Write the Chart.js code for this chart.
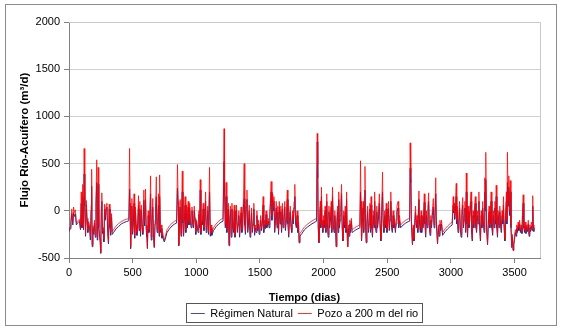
<!DOCTYPE html>
<html>
<head>
<meta charset="utf-8">
<script src="https://cdn.jsdelivr.net/npm/chart.js@4.4.1/dist/chart.umd.min.js"></script>
<style>
  html, body { margin: 0; padding: 0; background: #fff; }
  #wrap { width: 562px; height: 329px; }
</style>
</head>
<body>
<div id="wrap"><canvas id="mycanvas" width="562" height="329"></canvas></div>
<script>
// [dia, flujo]
var natural = [
  [0,-220],[8,-190],[15,-130],[22,-30],[30,-150],[36,-20],[42,-60],[50,-30],[58,-150],[66,-130],[74,-120],[82,-110],[90,-200],[96,80],[102,-180],[108,150],[114,-200],[119,390],[124,50],[130,-270],[136,60],[142,-110],[148,-230],[155,-150],[162,-180],[168,-310],[174,0],[178,260],[182,-380],[188,-190],[194,-250],[200,-130],[206,-280],[212,60],[218,300],[222,-310],[226,120],[229,280],[234,-180],[240,-270],[245,-330],[249,-450],[254,0],[258,100],[263,-240],[268,-210],[274,-330],[280,20],[286,-100],[292,20],[298,40],[304,-230],[310,-350],[316,20],[322,-180],[328,-260],[334,-70],[340,-250],
  [350,-230],[370,-190],[390,-165],[410,-140],[430,-125],[450,-115],[470,-105],
  [476,230],[480,0],[484,-400],[490,-100],[494,50],[500,-250],[506,-120],[511,80],[516,-290],[522,-10],[528,-180],[534,-260],[540,-130],[546,60],[550,-210],[556,20],[562,-270],[568,0],[574,-180],[580,-250],[588,110],[594,-160],[601,120],[606,-190],[612,-280],[616,-400],[622,-50],[628,-230],[634,-140],[641,180],[646,-310],[652,-130],[658,40],[664,-280],[670,-390],[676,-140],[681,40],[686,150],[692,-230],[698,-160],[703,60],[708,-270],[712,150],[718,-230],[724,-190],[730,-290],[736,-260],[742,-310],[749,-330],[756,-300],
  [770,-230],[790,-190],[810,-160],[830,-140],[845,-130],
  [852,240],[858,40],[862,-370],[868,-110],[874,40],[880,-270],[885,0],[890,200],[895,-130],[900,-270],[906,-110],[912,60],[918,-230],[924,10],[930,-180],[936,40],[942,-150],[948,30],[954,-130],[960,-180],[966,0],[972,-130],[978,-180],[984,0],[990,-110],[996,-250],[1002,-130],[1008,-180],[1014,-230],[1020,-40],[1026,-180],[1031,220],[1036,-250],[1042,-130],[1048,-150],[1054,20],[1060,-210],[1066,-130],[1073,100],[1078,-230],[1084,-180],[1090,0],[1096,-250],[1104,200],[1110,-270],[1116,-180],[1122,-260],
  [1135,-210],[1155,-170],[1175,-140],[1195,-120],[1210,-110],
  [1218,520],[1222,200],[1228,-180],[1234,150],[1240,-230],[1246,-90],[1252,20],[1257,-370],[1262,-140],[1268,0],[1274,-280],[1280,20],[1286,-180],[1292,-230],[1298,0],[1304,-280],[1310,-140],[1316,10],[1322,-230],[1328,-150],[1334,-50],[1340,-280],[1346,-140],[1352,-20],[1358,-230],[1364,-180],[1370,40],[1376,130],[1381,-150],[1386,-250],[1392,40],[1398,120],[1404,-230],[1410,-140],[1416,0],[1422,-280],[1428,-180],[1434,-20],[1440,-230],[1446,-150],[1452,20],[1458,-260],[1464,-180],[1470,-230],[1476,-50],[1482,-210],[1488,-140],[1494,-250],[1500,-180],[1506,-100],[1512,-210],[1518,-150],[1525,60],[1530,-230],[1536,-140],[1542,-190],[1548,-40],[1554,-180],[1560,-150],[1566,-110],[1572,-180],[1578,-50],[1583,80],[1588,200],[1594,-100],[1600,120],[1606,0],[1610,100],[1616,-230],[1622,-100],[1628,30],[1634,-180],[1640,-10],[1646,-250],[1652,40],[1658,-140],[1664,-10],[1670,-230],[1676,20],[1682,-180],[1688,-100],[1695,40],[1700,-210],[1706,-120],[1710,0],[1715,120],[1720,-140],[1726,-280],[1732,-100],[1738,-10],[1744,-180],[1750,-230],[1756,-50],[1762,-140],[1768,30],[1774,150],[1780,-140],[1786,-180],[1792,-50],[1798,-230],[1803,-150],[1808,-340],[1814,-270],
  [1825,-250],[1850,-200],[1875,-170],[1900,-145],[1925,-125],[1945,-110],
  [1950,730],[1954,350],[1958,-180],[1963,-340],[1968,-140],[1974,40],[1978,-180],[1983,150],[1988,-140],[1994,-230],[2000,-100],[2006,-180],[2012,0],[2018,-230],[2025,100],[2030,-140],[2036,-280],[2042,-10],[2048,-180],[2054,-100],[2060,40],[2064,-230],[2070,150],[2076,-140],[2082,-230],[2088,-50],[2094,-180],[2099,-380],[2104,-140],[2110,-10],[2114,-230],[2119,120],[2124,-180],[2130,-100],[2136,30],[2141,180],[2146,-180],[2152,-320],[2158,-50],[2164,-180],[2170,-10],[2176,-230],[2181,120],[2185,-230],[2189,-380],[2195,-180],[2200,-270],[2206,-140],[2212,-230],[2218,-110],[2224,-230],
  [2235,-220],[2255,-200],[2270,-190],[2285,-180],
  [2290,200],[2294,0],[2298,-320],[2304,-140],[2310,30],[2315,-230],[2320,60],[2325,220],[2330,-180],[2335,-340],[2340,-140],[2346,-10],[2352,-230],[2358,-140],[2364,20],[2368,-230],[2373,60],[2378,-180],[2384,-280],[2390,-50],[2396,-180],[2401,100],[2406,-140],[2412,-230],[2418,-10],[2424,-180],[2430,-100],[2438,80],[2444,-180],[2450,-320],[2456,-50],[2463,200],[2468,-140],[2474,-230],[2480,-50],[2486,-180],[2492,20],[2498,-230],[2504,-140],[2510,30],[2516,-210],[2522,-100],[2528,100],[2534,-180],[2540,-230],[2546,-50],[2552,-180],[2558,-120],[2564,-230],[2570,-140],[2576,-10],[2585,30],[2590,-180],[2596,-100],
  [2605,-180],[2625,-150],[2645,-130],[2665,-115],[2676,-110],
  [2680,450],[2683,300],[2686,400],[2690,-150],[2698,-360],[2704,-180],[2710,-320],[2716,-140],[2722,-10],[2728,-180],[2734,-100],[2740,-230],[2749,120],[2754,-140],[2760,-230],[2766,-50],[2771,-230],[2776,-100],[2782,-180],[2791,90],[2796,-140],[2802,-280],[2808,-50],[2814,-180],[2820,-10],[2825,100],[2830,-140],[2836,-260],[2842,-100],[2848,-180],[2854,-50],[2862,40],[2868,-180],[2874,-100],[2881,180],[2886,-140],[2895,-350],[2902,-180],[2908,-270],[2914,-140],[2920,-210],[2926,-140],
  [2935,-260],[2955,-220],[2975,-190],[2995,-165],[3010,-150],
  [3018,60],[3022,-20],[3026,40],[3030,-90],[3036,20],[3042,150],[3046,-140],[3050,0],[3056,-230],[3062,-140],[3068,30],[3074,-180],[3080,-280],[3086,-50],[3093,60],[3098,-180],[3104,-100],[3110,30],[3116,-230],[3121,200],[3126,-140],[3131,-280],[3136,-10],[3142,-180],[3148,-100],[3153,30],[3158,100],[3163,-230],[3168,-320],[3174,-50],[3180,-180],[3186,-10],[3192,80],[3197,-180],[3202,-230],[3208,-50],[3214,-140],[3220,100],[3226,-180],[3232,-320],[3238,-50],[3244,-180],[3250,30],[3256,-140],[3261,-230],[3266,200],[3270,0],[3274,330],[3280,-180],[3288,-360],[3294,-140],[3300,-10],[3306,-180],[3311,-100],[3316,100],[3322,-180],[3328,-260],[3334,-50],[3340,-180],[3346,30],[3351,-140],[3356,150],[3361,-180],[3366,-280],[3372,-50],[3378,-180],[3384,-10],[3390,-140],[3396,-230],[3402,-50],[3408,-140],[3413,60],[3418,-180],[3424,-320],[3430,-50],[3436,100],[3440,-140],[3444,300],[3450,50],[3455,250],[3460,-50],[3466,200],[3472,-180],[3478,-390],[3483,-280],[3489,-420],[3494,-360],[3500,-300],[3506,-230],[3512,-270],[3517,-190],[3522,-230],[3528,-160],[3534,-210],[3540,-140],[3546,-230],[3552,-180],[3558,-240],[3563,-50],[3568,80],[3573,-180],[3578,-230],[3584,-160],[3590,-240],[3596,-180],[3602,-220],[3608,-140],[3614,-270],[3620,-180],[3626,-220],[3632,-160],[3638,-210],[3643,50],[3647,-180],[3652,-220]
];

var pozo = [
  [0,-200],[8,-170],[15,-100],[22,20],[30,-120],[36,40],[42,-20],[50,10],[58,-130],[66,-110],[74,-100],[82,-90],[90,-180],[96,200],[102,-150],[108,280],[114,-180],[119,660],[124,100],[130,-250],[136,110],[142,-80],[148,-200],[155,-120],[162,-150],[168,-280],[174,60],[178,440],[182,-360],[188,-160],[194,-220],[200,-100],[206,-250],[212,120],[218,540],[222,-280],[226,200],[229,460],[234,-150],[240,-240],[245,-300],[249,-440],[254,50],[258,190],[263,-210],[268,-180],[274,-300],[280,70],[286,-60],[292,60],[298,80],[304,-200],[310,-330],[316,70],[322,-150],[328,-230],[334,-30],[340,-220],
  [350,-200],[370,-160],[390,-135],[410,-115],[430,-100],[450,-90],[470,-80],
  [476,660],[480,80],[484,-380],[490,-50],[494,130],[500,-220],[506,-80],[511,180],[516,-260],[522,40],[528,-150],[534,-230],[540,-100],[546,160],[550,-180],[556,100],[562,-240],[568,60],[574,-150],[580,-220],[588,220],[594,-120],[601,230],[606,-150],[612,-250],[616,-390],[622,0],[628,-200],[634,-100],[641,370],[646,-280],[652,-100],[658,130],[664,-250],[670,-380],[676,-100],[681,100],[686,360],[692,-200],[698,-120],[703,180],[708,-240],[712,380],[718,-200],[724,-150],[730,-260],[736,-230],[742,-280],[749,-310],[756,-270],
  [770,-200],[790,-160],[810,-130],[830,-110],[845,-100],
  [852,490],[858,100],[862,-360],[868,-80],[874,120],[880,-250],[885,60],[890,420],[895,-100],[900,-250],[906,-80],[912,150],[918,-200],[924,60],[930,-150],[936,100],[942,-120],[948,80],[954,-100],[960,-150],[966,40],[972,-100],[978,-150],[984,50],[990,-80],[996,-220],[1002,-100],[1008,-150],[1014,-200],[1020,0],[1026,-150],[1031,330],[1036,-230],[1042,-100],[1048,-120],[1054,80],[1060,-180],[1066,-100],[1073,200],[1078,-200],[1084,-150],[1090,50],[1096,-220],[1104,460],[1110,-250],[1116,-150],[1122,-230],
  [1135,-180],[1155,-140],[1175,-110],[1195,-90],[1210,-80],
  [1218,870],[1222,300],[1228,-150],[1234,300],[1240,-200],[1246,-50],[1252,80],[1257,-360],[1262,-100],[1268,50],[1274,-250],[1280,80],[1286,-150],[1292,-200],[1298,60],[1304,-250],[1310,-100],[1316,60],[1322,-200],[1328,-120],[1334,0],[1340,-250],[1346,-100],[1352,40],[1358,-200],[1364,-150],[1370,120],[1376,500],[1381,-100],[1386,-220],[1392,100],[1398,220],[1404,-200],[1410,-100],[1416,60],[1422,-250],[1428,-150],[1434,30],[1440,-200],[1446,-120],[1452,80],[1458,-230],[1464,-150],[1470,-200],[1476,0],[1482,-180],[1488,-100],[1494,-220],[1500,-150],[1506,-50],[1512,-180],[1518,-120],[1525,150],[1530,-200],[1536,-100],[1542,-160],[1548,0],[1554,-150],[1560,-120],[1566,-80],[1572,-150],[1578,0],[1583,150],[1588,310],[1594,-50],[1600,180],[1606,60],[1610,150],[1616,-200],[1622,-50],[1628,100],[1634,-150],[1640,50],[1646,-220],[1652,100],[1658,-100],[1664,50],[1670,-200],[1676,80],[1682,-150],[1688,-50],[1695,100],[1700,-180],[1706,-80],[1710,60],[1715,220],[1720,-100],[1726,-250],[1732,-50],[1738,50],[1744,-150],[1750,-200],[1756,0],[1762,-100],[1768,100],[1774,280],[1780,-100],[1786,-150],[1792,0],[1798,-200],[1803,-120],[1808,-330],[1814,-240],
  [1825,-220],[1850,-170],[1875,-140],[1900,-115],[1925,-95],[1945,-80],
  [1950,820],[1954,500],[1958,-150],[1963,-330],[1968,-100],[1974,100],[1978,-150],[1983,250],[1988,-100],[1994,-200],[2000,-50],[2006,-150],[2012,50],[2018,-200],[2025,180],[2030,-100],[2036,-250],[2042,50],[2048,-150],[2054,-50],[2060,100],[2064,-200],[2070,250],[2076,-100],[2082,-200],[2088,0],[2094,-150],[2099,-380],[2104,-100],[2110,50],[2114,-200],[2119,200],[2124,-150],[2130,-50],[2136,100],[2141,280],[2146,-150],[2152,-300],[2158,0],[2164,-150],[2170,50],[2176,-200],[2181,200],[2185,-200],[2189,-380],[2195,-150],[2200,-250],[2206,-100],[2212,-200],[2218,-80],[2224,-200],
  [2235,-190],[2255,-170],[2270,-160],[2285,-150],
  [2290,530],[2294,100],[2298,-300],[2304,-100],[2310,100],[2315,-200],[2320,150],[2325,470],[2330,-150],[2335,-330],[2340,-100],[2346,50],[2352,-200],[2358,-100],[2364,80],[2368,-200],[2373,150],[2378,-150],[2384,-250],[2390,0],[2396,-150],[2401,200],[2406,-100],[2412,-200],[2418,50],[2424,-150],[2430,-50],[2438,180],[2444,-150],[2450,-300],[2456,0],[2463,410],[2468,-100],[2474,-200],[2480,0],[2486,-150],[2492,80],[2498,-200],[2504,-100],[2510,100],[2516,-180],[2522,-50],[2528,200],[2534,-150],[2540,-200],[2546,0],[2552,-150],[2558,-80],[2564,-200],[2570,-100],[2576,50],[2585,100],[2590,-150],[2596,-50],
  [2605,-150],[2625,-120],[2645,-100],[2665,-85],[2676,-80],
  [2680,720],[2683,400],[2686,680],[2690,-100],[2698,-350],[2704,-150],[2710,-300],[2716,-100],[2722,50],[2728,-150],[2734,-50],[2740,-200],[2749,210],[2754,-100],[2760,-200],[2766,0],[2771,-200],[2776,-50],[2782,-150],[2791,180],[2796,-100],[2802,-250],[2808,0],[2814,-150],[2820,50],[2825,190],[2830,-100],[2836,-230],[2842,-50],[2848,-150],[2854,0],[2862,130],[2868,-150],[2874,-50],[2881,350],[2886,-100],[2895,-340],[2902,-150],[2908,-250],[2914,-100],[2920,-180],[2926,-100],
  [2935,-230],[2955,-190],[2975,-160],[2995,-135],[3010,-120],
  [3018,150],[3022,0],[3026,80],[3030,-50],[3036,100],[3042,290],[3046,-100],[3050,50],[3056,-200],[3062,-100],[3068,100],[3074,-150],[3080,-250],[3086,0],[3093,140],[3098,-150],[3104,-50],[3110,100],[3116,-200],[3121,400],[3126,-100],[3131,-250],[3136,50],[3142,-150],[3148,-50],[3153,100],[3158,200],[3163,-200],[3168,-300],[3174,0],[3180,-150],[3186,50],[3192,150],[3197,-150],[3202,-200],[3208,0],[3214,-100],[3220,200],[3226,-150],[3232,-300],[3238,0],[3244,-150],[3250,100],[3256,-100],[3261,-200],[3266,350],[3270,50],[3274,620],[3280,-150],[3288,-350],[3294,-100],[3300,50],[3306,-150],[3311,-50],[3316,200],[3322,-150],[3328,-230],[3334,0],[3340,-150],[3346,100],[3351,-100],[3356,270],[3361,-150],[3366,-250],[3372,0],[3378,-150],[3384,50],[3390,-100],[3396,-200],[3402,0],[3408,-100],[3413,150],[3418,-150],[3424,-300],[3430,0],[3436,200],[3440,-100],[3444,620],[3450,100],[3455,370],[3460,0],[3466,320],[3472,-150],[3478,-380],[3483,-250],[3489,-420],[3494,-350],[3500,-280],[3506,-200],[3512,-250],[3517,-150],[3522,-200],[3528,-120],[3534,-180],[3540,-100],[3546,-200],[3552,-150],[3558,-220],[3563,0],[3568,170],[3573,-150],[3578,-200],[3584,-120],[3590,-220],[3596,-150],[3602,-200],[3608,-100],[3614,-250],[3620,-150],[3626,-200],[3632,-120],[3638,-180],[3643,160],[3647,-150],[3652,-200]
];

var etiquetas = ['Régimen Natural', 'Pozo a 200 m del rio'];
var xTicks = [0, 500, 1000, 1500, 2000, 2500, 3000, 3500];
var yTicks = [-500, 0, 500, 1000, 1500, 2000];

function toXY(arr) {
  return arr.map(function(p) { return {x: p[0], y: p[1]}; });
}

var frame = {
  id: 'frame',
  beforeDraw: function(chart) {
    var ctx = chart.ctx;
    ctx.save();
    ctx.fillStyle = '#fff';
    ctx.fillRect(0, 0, chart.width, chart.height);
    ctx.strokeStyle = '#8c8c8c';
    ctx.lineWidth = 1;
    ctx.strokeRect(5.5, 4.5, 551, 321);
    ctx.restore();
  },
  afterDatasetsDraw: function(chart) {
    var a = chart.chartArea, ctx = chart.ctx;
    ctx.save();
    ctx.strokeStyle = '#c8c8c8';
    ctx.lineWidth = 1;
    ctx.beginPath();
    ctx.moveTo(a.left, Math.round(a.top) + 0.5);
    ctx.lineTo(Math.round(a.right) + 0.5, Math.round(a.top) + 0.5);
    ctx.lineTo(Math.round(a.right) + 0.5, a.bottom);
    ctx.stroke();
    ctx.restore();
  },
  afterDraw: function(chart) {
    var boxes = chart.legend.legendHitBoxes;
    if (!boxes || !boxes.length) return;
    var l = boxes[0].left, r = boxes[boxes.length - 1].left + boxes[boxes.length - 1].width;
    var t = boxes[0].top, h = boxes[0].height;
    var ctx = chart.ctx;
    ctx.save();
    ctx.strokeStyle = '#555';
    ctx.lineWidth = 1;
    ctx.strokeRect(Math.round(l) - 4.5, Math.round(t) - 4.5, Math.round(r - l) + 9, Math.round(h) + 8);
    ctx.restore();
  }
};

var ctx = document.getElementById('mycanvas');

var Graph = new Chart(ctx, {
  type: 'line',
  data: {
    datasets: [
      {
        label: etiquetas[0],
        data: toXY(natural),
        borderColor: '#2a2a8c',
        backgroundColor: '#2a2a8c',
        borderWidth: 1,
        pointRadius: 0,
        tension: 0,
        order: 2
      },
      {
        label: etiquetas[1],
        data: toXY(pozo),
        borderColor: 'rgba(255,0,0,0.75)',
        backgroundColor: 'rgba(255,0,0,0.75)',
        borderWidth: 1,
        pointRadius: 0,
        tension: 0,
        order: 1
      }
    ]
  },
  plugins: [frame],
  options: {
    responsive: false,
    animation: false,
    layout: { padding: { left: 14, right: 22, top: 22, bottom: 0 } },
    plugins: {
      tooltip: { enabled: false },
      legend: {
        position: 'bottom',
        fullSize: false,
        labels: {
          font: { family: 'Liberation Sans', size: 11 },
          color: '#000',
          usePointStyle: true,
          pointStyle: 'line',
          pointStyleWidth: 14,
          boxHeight: 1,
          padding: 5,
          generateLabels: function(chart) {
            return chart.data.datasets.map(function(ds, i) {
              return {
                text: ds.label,
                strokeStyle: i === 0 ? '#4a4aa8' : '#ff3030',
                fillStyle: ds.borderColor,
                lineWidth: 1,
                pointStyle: 'line',
                datasetIndex: i,
                hidden: false
              };
            });
          }
        }
      }
    },
    scales: {
      x: {
        type: 'linear',
        min: 0,
        max: 3700,
        afterBuildTicks: function(scale) {
          scale.ticks = xTicks.map(function(v) { return {value: v}; });
        },
        afterFit: function(scale) { scale.height = 45; },
        ticks: {
          font: { family: 'Liberation Sans', size: 11 },
          color: '#000',
          maxRotation: 0,
          padding: 3,
          callback: function(v) { return String(v); }
        },
        grid: { drawOnChartArea: false, color: '#808080', tickLength: 5 },
        border: { color: '#808080' },
        title: {
          display: true,
          text: 'Tiempo (dias)',
          font: { family: 'Liberation Sans', size: 11, weight: 'bold' },
          color: '#000',
          padding: { top: 4, bottom: -2 }
        }
      },
      y: {
        min: -500,
        max: 2000,
        afterBuildTicks: function(scale) {
          scale.ticks = yTicks.map(function(v) { return {value: v}; });
        },
        afterFit: function(scale) { scale.width = 55; },
        ticks: {
          font: { family: 'Liberation Sans', size: 11 },
          color: '#000',
          padding: 4,
          callback: function(v) { return String(v); }
        },
        grid: {
          color: '#d0d0d0',
          borderDash: [6, 4],
          tickBorderDash: [],
          tickColor: '#808080',
          tickLength: 5
        },
        border: { color: '#808080' },
        title: {
          display: true,
          text: 'Flujo Río-Acuífero (m³/d)',
          font: { family: 'Liberation Sans', size: 11.5, weight: 'bold' },
          color: '#000',
          padding: { top: 4, bottom: 4 }
        }
      }
    }
  }
});
</script>
</body>
</html>
